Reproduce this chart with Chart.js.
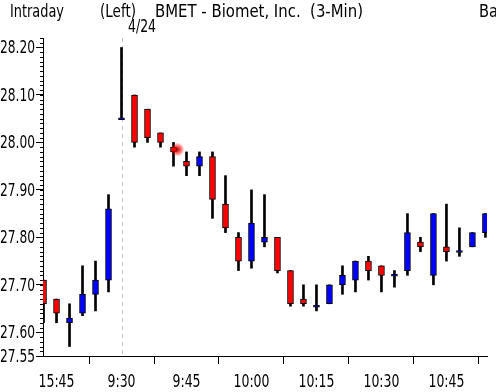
<!DOCTYPE html>
<html>
<head>
<meta charset="utf-8">
<script src="https://cdn.jsdelivr.net/npm/chart.js@4.4.1/dist/chart.umd.min.js"></script>
<style>
  html, body { margin: 0; padding: 0; background: #fff; }
  #chart { display: block; }
</style>
</head>
<body>
<canvas id="chart" width="496" height="392" style="width:496px;height:392px"></canvas>
<script>
// 3-minute bars, previous close then the 4/24 session
var times = ['15:42','15:45','15:48','15:51','15:54','15:57',
  '9:30','9:33','9:36','9:39','9:42','9:45','9:48','9:51','9:54','9:57',
  '10:00','10:03','10:06','10:09','10:12','10:15','10:18','10:21','10:24','10:27',
  '10:30','10:33','10:36','10:39','10:42','10:45','10:48','10:51','10:54'];
var opens  = [27.71,27.67,27.62,27.64,27.68,27.71,
  28.05,28.10,28.07,28.02,27.99,27.96,27.95,27.97,27.87,27.80,
  27.75,27.79,27.80,27.73,27.67,27.655,27.66,27.70,27.71,27.75,
  27.74,27.72,27.73,27.79,27.72,27.78,27.77,27.78,27.81];
var highs  = [27.71,27.67,27.66,27.74,27.75,27.89,
  28.20,28.10,28.07,28.02,28.00,27.98,27.98,27.98,27.93,27.81,
  27.90,27.89,27.80,27.73,27.70,27.70,27.70,27.74,27.75,27.76,
  27.74,27.73,27.85,27.80,27.85,27.87,27.82,27.81,27.85];
var lows   = [27.62,27.62,27.57,27.635,27.645,27.685,
  28.05,27.99,28.00,27.99,27.95,27.93,27.93,27.84,27.81,27.73,
  27.735,27.78,27.725,27.655,27.655,27.645,27.66,27.68,27.685,27.71,
  27.685,27.695,27.72,27.77,27.70,27.75,27.76,27.78,27.80];
var closes = [27.66,27.64,27.63,27.68,27.71,27.86,
  28.05,28.00,28.01,28.00,27.98,27.95,27.97,27.88,27.82,27.75,
  27.83,27.80,27.73,27.66,27.66,27.655,27.70,27.72,27.75,27.73,
  27.72,27.72,27.81,27.78,27.85,27.77,27.77,27.81,27.85];

var xTickLabels = ['15:45','9:30','9:45','10:00','10:15','10:30','10:45'];
var yTickValues = [28.20, 28.10, 28.00, 27.90, 27.80, 27.70, 27.60, 27.55];
var sessionStart = '9:30';

var FONT = "'DejaVu Sans Condensed', 'DejaVu Sans', sans-serif";
Chart.defaults.font.family = FONT;
Chart.defaults.font.size = 17;
Chart.defaults.color = '#000';

var wickData = times.map(function (t, i) { return { x: i, y: [lows[i], highs[i]] }; });
var bodyData = times.map(function (t, i) {
  var o = opens[i], c = closes[i];
  if (o === c) return { x: i, y: [o - 0.002, o + 0.002] }; // doji: thin line
  return { x: i, y: [o, c] };
});
var bodyColors = times.map(function (t, i) {
  return closes[i] >= opens[i] ? '#0000ff' : '#ff0000';
});

// narrow text: squeeze horizontally to a given width
function narrowText(ctx, text, x, y, sx, align) {
  var w = ctx.measureText(text).width * sx;
  var left = align === 'right' ? x - w : align === 'center' ? x - w / 2 : x;
  ctx.save();
  ctx.translate(left, y);
  ctx.scale(sx, 1);
  ctx.textAlign = 'left';
  ctx.fillText(text, 0, 0);
  ctx.restore();
}
function fitText(ctx, text, x, y, width) {
  narrowText(ctx, text, x, y, width / ctx.measureText(text).width, 'left');
}

var labelsPlugin = {
  id: 'labels',
  afterDraw: function (chart) {
    var ctx = chart.ctx;
    ctx.save();
    ctx.font = '17px ' + FONT;
    ctx.fillStyle = '#000';
    ctx.textBaseline = 'alphabetic';
    // header
    fitText(ctx, 'Intraday', 10, 17, 54);
    fitText(ctx, '(Left)', 100, 17, 36);
    fitText(ctx, 'BMET - Biomet, Inc.  (3-Min)', 155, 17, 208);
    fitText(ctx, 'Ba', 479, 17, 19);
    fitText(ctx, '4/24', 128, 32, 28);
    // price labels
    var y = chart.scales.y, x = chart.scales.x;
    var sy = 35 / ctx.measureText('28.20').width;
    yTickValues.forEach(function (v) {
      narrowText(ctx, v.toFixed(2), 35, Math.round(y.getPixelForValue(v)) + 6, sy, 'right');
    });
    // time labels
    var sx = 36 / ctx.measureText('10:00').width;
    xTickLabels.forEach(function (t) {
      narrowText(ctx, t, x.getPixelForValue(times.indexOf(t)), 387, sx, 'center');
    });
    ctx.restore();
  }
};

// minor ticks on the price axis, day separator, cursor mark
var extrasPlugin = {
  id: 'extras',
  beforeDatasetsDraw: function (chart) {
    var ctx = chart.ctx, a = chart.chartArea;
    var x = Math.round(chart.scales.x.getPixelForValue(times.indexOf(sessionStart))) + 0.5;
    ctx.save();
    ctx.strokeStyle = '#c0c0c0';
    ctx.lineWidth = 1;
    ctx.setLineDash([4, 4]);
    ctx.beginPath();
    ctx.moveTo(x, a.top);
    ctx.lineTo(x, a.bottom);
    ctx.stroke();
    ctx.restore();
  },
  afterDraw: function (chart) {
    var ctx = chart.ctx, a = chart.chartArea, y = chart.scales.y;
    ctx.save();
    ctx.strokeStyle = '#000';
    ctx.lineWidth = 1;
    for (var k = 0; k <= 67; k++) {
      var v = 27.55 + k / 100;
      var py = Math.round(y.getPixelForValue(v)) + 0.5;
      ctx.beginPath();
      ctx.moveTo(a.left - 3, py);
      ctx.lineTo(a.left, py);
      ctx.stroke();
    }
    // cursor glow
    var cx = chart.scales.x.getPixelForValue(10.3), cy = y.getPixelForValue(27.985);
    var g = ctx.createRadialGradient(cx, cy, 0, cx, cy, 7);
    g.addColorStop(0, 'rgba(120,0,0,0.9)');
    g.addColorStop(0.4, 'rgba(255,0,0,0.7)');
    g.addColorStop(1, 'rgba(255,0,0,0)');
    ctx.fillStyle = g;
    ctx.beginPath();
    ctx.arc(cx, cy, 7, 0, Math.PI * 2);
    ctx.fill();
    ctx.restore();
  }
};

var chart = new Chart(document.getElementById('chart'), {
  type: 'bar',
  data: {
    datasets: [{
      data: wickData,
      backgroundColor: '#000',
      barThickness: 2,
      grouped: false,
      order: 2
    }, {
      data: bodyData,
      backgroundColor: bodyColors,
      borderColor: '#000',
      borderWidth: 1,
      borderSkipped: false,
      barThickness: 6,
      grouped: false,
      order: 1
    }]
  },
  options: {
    responsive: false,
    animation: false,
    layout: { padding: { top: 38, right: 9, left: 0, bottom: 0 } },
    plugins: { legend: { display: false }, tooltip: { enabled: false } },
    scales: {
      x: {
        type: 'linear',
        min: -0.04,
        max: 34.12,
        offset: false,
        border: { color: '#000', width: 1 },
        grid: { drawOnChartArea: false, tickLength: 8, color: '#000' },
        ticks: { display: false },
        afterBuildTicks: function (scale) {
          scale.ticks = xTickLabels.map(function (t) { return { value: times.indexOf(t) }; });
        },
        afterFit: function (scale) { scale.height = 36; }
      },
      y: {
        min: 27.55,
        max: 28.22,
        border: { color: '#000', width: 1 },
        grid: { drawOnChartArea: false, tickLength: 7, color: '#000' },
        ticks: { display: false },
        afterBuildTicks: function (scale) {
          scale.ticks = yTickValues.map(function (v) { return { value: v }; });
        },
        afterFit: function (scale) { scale.width = 43; }
      }
    }
  },
  plugins: [labelsPlugin, extrasPlugin]
});
</script>
</body>
</html>
